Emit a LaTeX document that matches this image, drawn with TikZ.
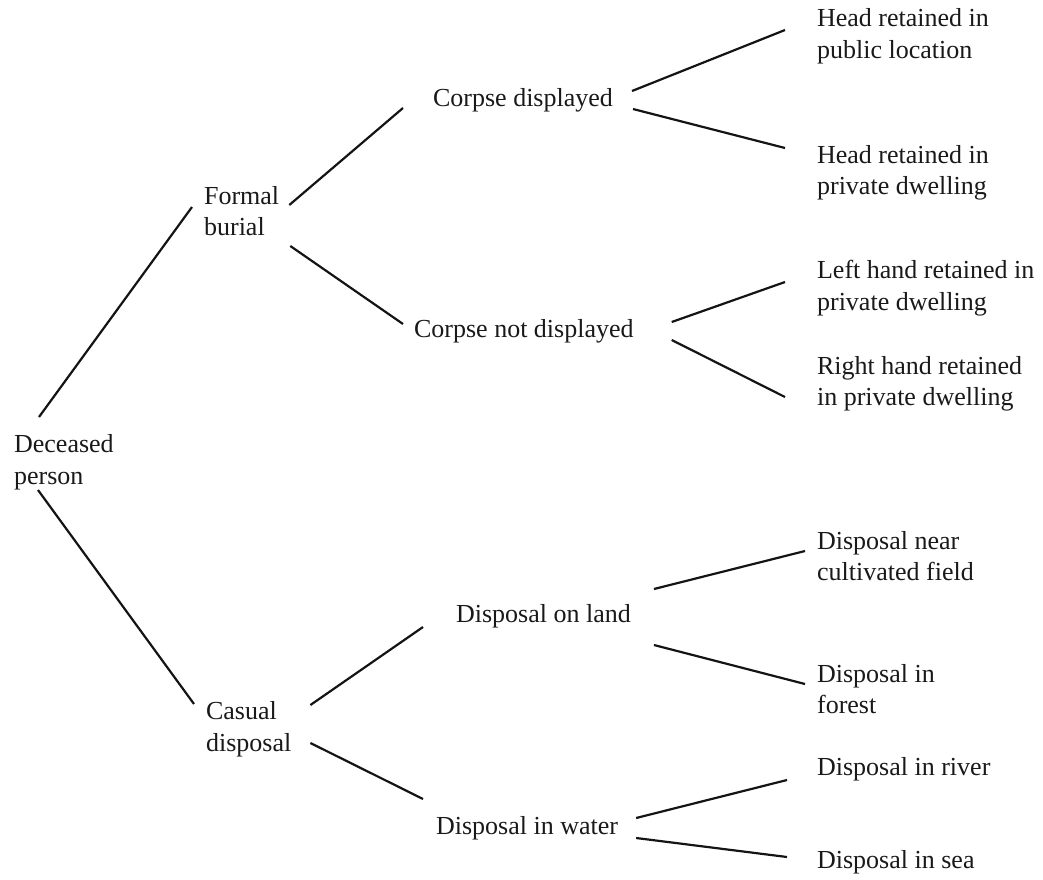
\documentclass[tikz,border=0pt]{standalone}
\usepackage{fontspec}
\setmainfont{Liberation Serif}
\usetikzlibrary{calc}

\tikzset{every picture/.style={line width=2.2pt}}
\tikzset{lbl/.style={anchor=west, inner sep=0pt, align=left, font=\fontsize{26}{31.5}\selectfont, text=black!90}}
\tikzset{branch/.style={draw=black!92}}

\begin{document}
\begin{tikzpicture}[x=1pt,y=1pt,yscale=-1,xscale=1]
	\useasboundingbox (0,0) rectangle (1043,879);

	% Text Node
	\node[lbl] (dp) at (13,462) {Deceased\\person};
	% Text Node
	\node[lbl] (fb) at (203,211) {Formal\\burial};
	% Text Node
	\node[lbl] (cs) at (205,729) {Casual\\disposal};
	% Text Node
	\node[lbl] (cd) at (432,100) {Corpse displayed};
	% Text Node
	\node[lbl] (cn) at (413,331) {Corpse not displayed};
	% Text Node
	\node[lbl] (dl) at (455,616) {Disposal on land};
	% Text Node
	\node[lbl] (dw) at (435,828) {Disposal in water};
	% Text Node
	\node[lbl] (hpub) at (816,36) {Head retained in\\public location};
	% Text Node
	\node[lbl] (hpriv) at (816,173) {Head retained in\\private dwelling};
	% Text Node
	\node[lbl] (lhand) at (816,288) {Left hand retained in\\private dwelling};
	% Text Node
	\node[lbl] (rhand) at (816,384) {Right hand retained\\in private dwelling};
	% Text Node
	\node[lbl] (field) at (816,556) {Disposal near\\cultivated field};
	% Text Node
	\node[lbl] (forest) at (816,689) {Disposal in\\forest};
	% Text Node
	\node[lbl] (river) at (816,769) {Disposal in river};
	% Text Node
	\node[lbl] (sea) at (816,862) {Disposal in sea};

	%Straight Lines
	\draw[branch] ($(dp.west)+(26,-45)$) -- ($(fb.west)+(-11,-4)$);
	\draw[branch] ($(dp.west)+(25,28)$) -- ($(cs.west)+(-11,-25)$);
	%Straight Lines
	\draw[branch] ($(fb.east)+(9,-6)$) -- ($(cd.west)+(-29,8)$);
	\draw[branch] ($(fb.east)+(10,35)$) -- ($(cn.west)+(-10,-7)$);
	\draw[branch] ($(cs.east)+(18,-24)$) -- ($(dl.west)+(-32,11)$);
	\draw[branch] ($(cs.east)+(18,14)$) -- ($(dw.west)+(-12,-29)$);
	%Straight Lines
	\draw[branch] ($(cd.east)+(18,-9)$) -- ($(hpub.west)+(-31,-6)$);
	\draw[branch] ($(cd.east)+(19,9)$) -- ($(hpriv.west)+(-31,-25)$);
	\draw[branch] ($(cn.east)+(37,-9)$) -- ($(lhand.west)+(-31,-6)$);
	\draw[branch] ($(cn.east)+(37,9)$) -- ($(rhand.west)+(-31,13)$);
	\draw[branch] ($(dl.east)+(22,-27)$) -- ($(field.west)+(-11,-5)$);
	\draw[branch] ($(dl.east)+(22,29)$) -- ($(forest.west)+(-11,-5)$);
	\draw[branch] ($(dw.east)+(17,-10)$) -- ($(river.west)+(-29,11)$);
	\draw[branch] ($(dw.east)+(17,10)$) -- ($(sea.west)+(-29,-5)$);

\end{tikzpicture}
\end{document}
